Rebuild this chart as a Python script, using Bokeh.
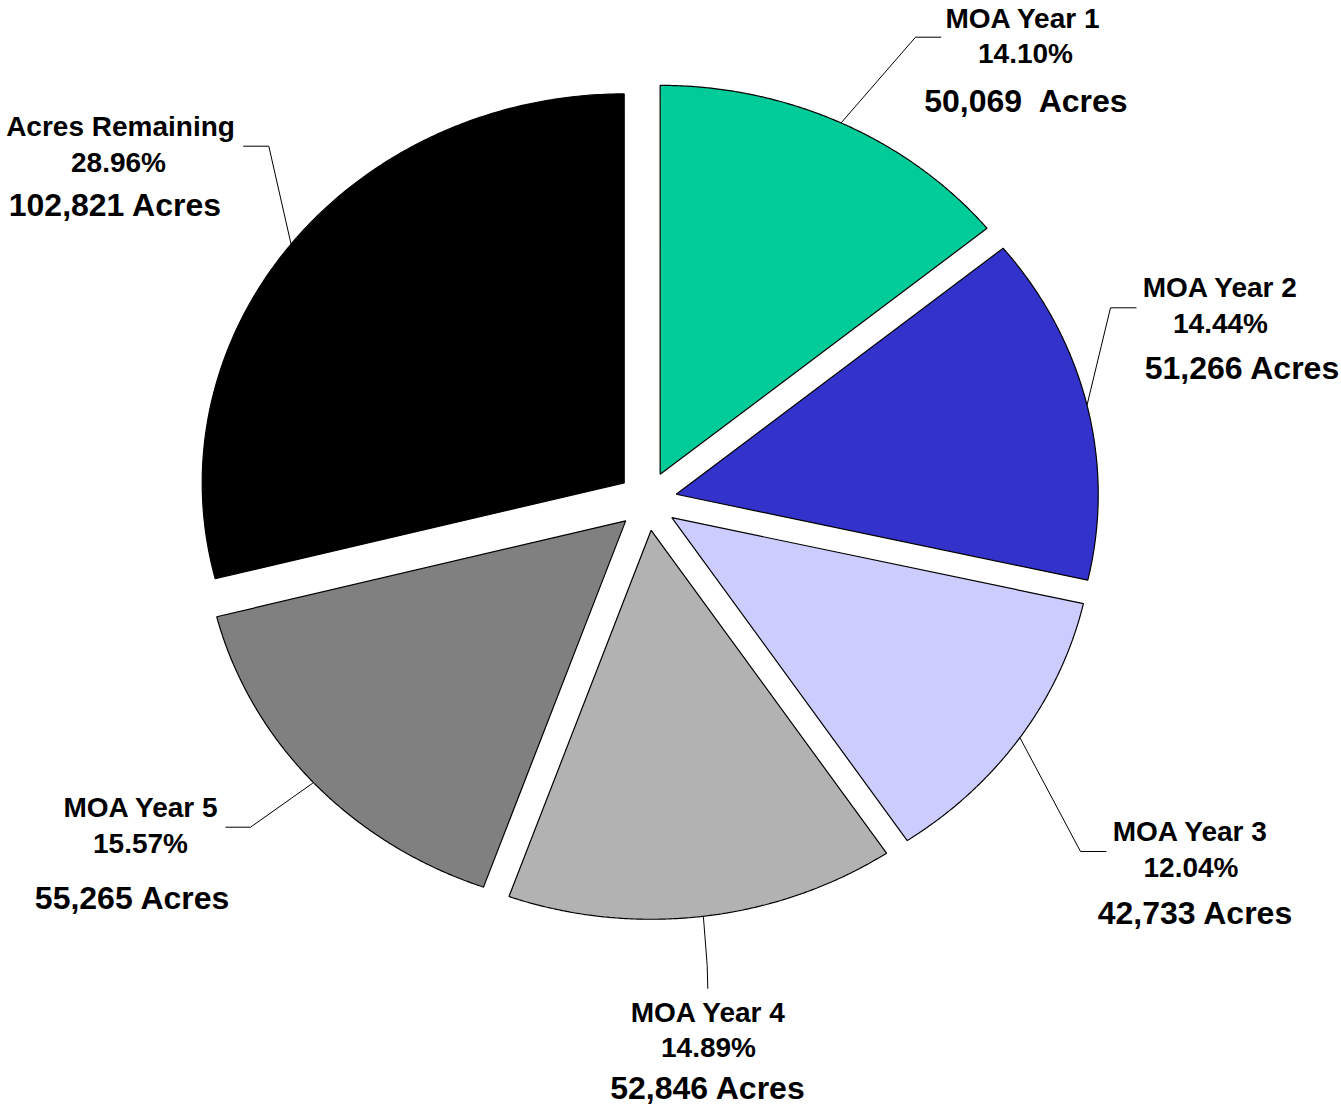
import numpy as np
from bokeh.plotting import figure
from bokeh.models import Range1d, ColumnDataSource
from bokeh.core.properties import value
from bokeh.embed import file_html
from bokeh.resources import INLINE

# ---- data ----
categories = ["MOA Year 1", "MOA Year 2", "MOA Year 3", "MOA Year 4", "MOA Year 5", "Acres Remaining"]
acres = [50069, 51266, 42733, 52846, 55265, 102821]
percent_labels = ["14.10%", "14.44%", "12.04%", "14.89%", "15.57%", "28.96%"]
acre_labels = ["50,069  Acres", "51,266 Acres", "42,733 Acres", "52,846 Acres", "55,265 Acres", "102,821 Acres"]
colors = ["#00CC99", "#3333CC", "#CCCCFF", "#B2B2B2", "#808080", "#000000"]

# ---- layout (pixel space of the picture) ----
W, H = 1341, 1107
CX, CY = 647.0, 500.5      # pie centre
RX, RY = 422.0, 389.0      # pie radii
EXPLODE = 29.5
SHIFT_SMALL, SHIFT_BIG = 10.0, 11.0   # baseline correction for the renderer

# label anchors: (centre x, baseline y) of the three text lines; leader elbow and end
label_layout = [
    dict(l1=(1022.7, 28.3), l2=(1025, 63.3), l3=(1026, 111.7), elbow=(915, 36.7), end=(940.7, 36.7)),
    dict(l1=(1220, 296.7), l2=(1220, 333.3), l3=(1242, 378.3), elbow=(1110, 307.3), end=(1136, 307.3)),
    dict(l1=(1190, 840.7), l2=(1190.5, 876.7), l3=(1195, 923.3), elbow=(1080, 851), end=(1106, 851)),
    dict(l1=(708, 1021.7), l2=(708, 1056.7), l3=(707.5, 1098.3), elbow=(706.7, 965), end=(707.3, 988.3)),
    dict(l1=(140.8, 817.3), l2=(140, 853.3), l3=(132.2, 908.3), elbow=(250, 826.7), end=(225, 826.7)),
    dict(l1=(120, 136), l2=(118, 171.7), l3=(115, 215), elbow=(268.3, 145.7), end=(242.7, 145.7)),
]

total = float(sum(acres))
fracs = np.array(acres) / total
ends = np.cumsum(fracs) * 2 * np.pi
starts = ends - fracs * 2 * np.pi

xs, ys = [], []
lead_xs, lead_ys = [], []
for i, (a0, a1) in enumerate(zip(starts, ends)):
    mid = 0.5 * (a0 + a1)
    ax = CX + EXPLODE * np.sin(mid)
    ay = CY - EXPLODE * np.cos(mid)
    th = np.linspace(a0, a1, 200)
    px = np.concatenate([[ax], ax + RX * np.sin(th)])
    py = np.concatenate([[ay], ay - RY * np.cos(th)])
    xs.append(list(px))
    ys.append(list(py))
    sx = ax + RX * np.sin(mid)
    sy = ay - RY * np.cos(mid)
    L = label_layout[i]
    lead_xs.append([sx, L["elbow"][0], L["end"][0]])
    lead_ys.append([sy, L["elbow"][1], L["end"][1]])

p = figure(width=W, height=H, x_range=Range1d(0, W), y_range=Range1d(H, 0),
           output_backend="svg", toolbar_location=None, min_border=0,
           background_fill_color="white", border_fill_color="white")
p.axis.visible = False
p.grid.visible = False
p.outline_line_color = None

p.patches(xs=xs, ys=ys, fill_color=colors, line_color="black", line_width=1.2)
p.multi_line(xs=lead_xs, ys=lead_ys, line_color="black", line_width=1.0)

tx, ty, tt, ts = [], [], [], []
for i in range(len(categories)):
    L = label_layout[i]
    for key, txt, size, sh in (("l1", categories[i], "28px", SHIFT_SMALL),
                               ("l2", percent_labels[i], "28px", SHIFT_SMALL),
                               ("l3", acre_labels[i].replace("  ", "\u00a0 "), "32px", SHIFT_BIG)):
        tx.append(L[key][0]); ty.append(L[key][1] - sh); tt.append(txt); ts.append(size)

src = ColumnDataSource(dict(x=tx, y=ty, text=tt, size=ts))
p.text(x="x", y="y", text="text", source=src, text_font=value("Liberation Sans"),
       text_font_style="bold", text_font_size="size", text_align="center",
       text_baseline="alphabetic", text_color="black")

open("out.html", "w").write(file_html(p, INLINE))
